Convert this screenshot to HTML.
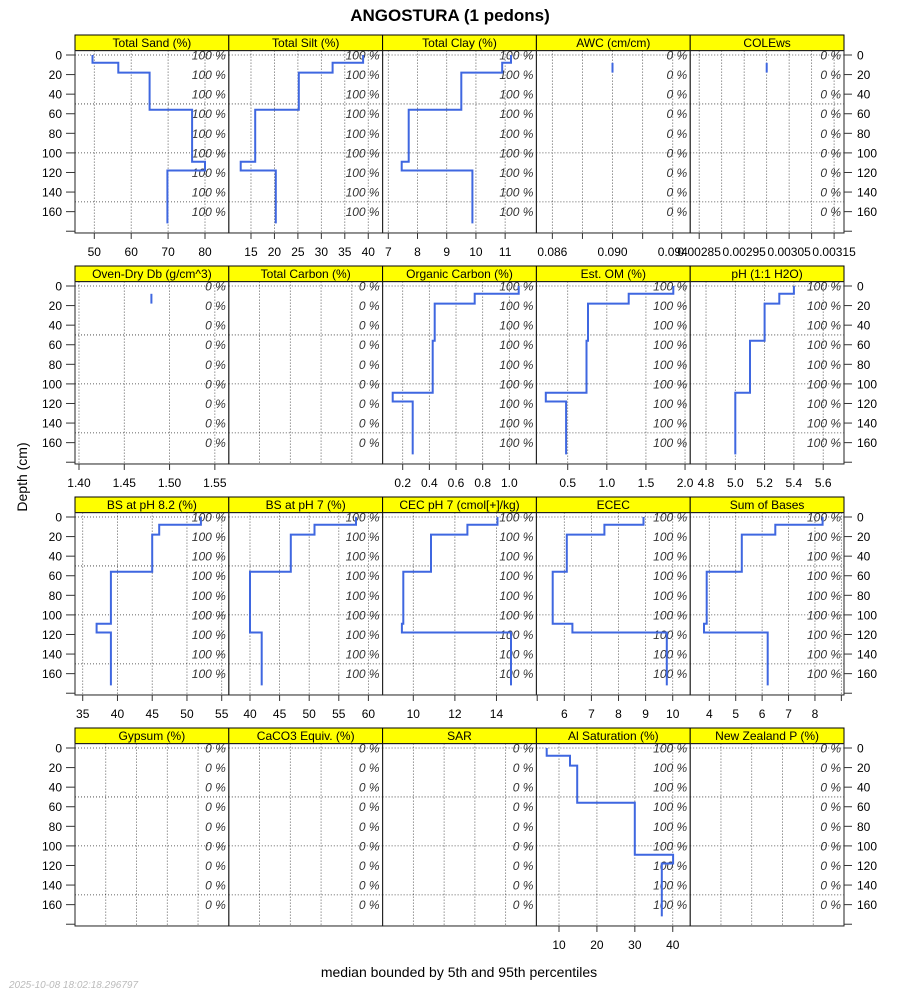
<!DOCTYPE html>
<html><head><meta charset="utf-8"><style>
html,body{margin:0;padding:0;background:#fff;}
svg{display:block;font-family:"Liberation Sans",Arial,sans-serif;}
</style></head><body>
<svg id="chart" width="900" height="1000" viewBox="0 0 900 1000" xmlns="http://www.w3.org/2000/svg">
<text x="450" y="21" text-anchor="middle" font-size="17" font-weight="bold">ANGOSTURA (1 pedons)</text>
<text transform="translate(27,477) rotate(-90)" text-anchor="middle" font-size="14">Depth (cm)</text>
<text x="459" y="977" text-anchor="middle" font-size="14">median bounded by 5th and 95th percentiles</text>
<text x="9" y="988" font-size="10" font-style="italic" fill="#bbb">2025-10-08 18:02:18.296797</text>
</svg>
<script>
// horizon depths (cm)
const horizonTop = [0, 8, 18, 56, 109, 118];
const horizonBottom = [8, 18, 56, 109, 118, 172];
const depthTicks = [0, 20, 40, 60, 80, 100, 120, 140, 160, 180];
const depthLabels = ["0", "20", "40", "60", "80", "100", "120", "140", "160", ""];
const depthGrid = [0, 50, 100, 150];
const pctDepths = [0, 20, 40, 60, 80, 100, 120, 140, 160];

const panelNames = ["Total Sand (%)","Total Silt (%)","Total Clay (%)","AWC (cm/cm)","COLEws",
 "Oven-Dry Db (g/cm^3)","Total Carbon (%)","Organic Carbon (%)","Est. OM (%)","pH (1:1 H2O)",
 "BS at pH 8.2 (%)","BS at pH 7 (%)","CEC pH 7 (cmol[+]/kg)","ECEC","Sum of Bases",
 "Gypsum (%)","CaCO3 Equiv. (%)","SAR","Al Saturation (%)","New Zealand P (%)"];
const N = NaN;
const seriesValues = [
 [49.5, 56.5, 65, 76.5, 80, 69.8],
 [38.9, 32.4, 25.2, 15.9, 12.8, 20.3],
 [11.2, 10.9, 9.5, 7.7, 7.46, 9.88],
 [N, 0.090, N, N, N, N],
 [N, 0.0030, N, N, N, N],
 [N, 1.48, N, N, N, N],
 [N, N, N, N, N, N],
 [1.07, 0.74, 0.44, 0.425, 0.125, 0.275],
 [1.85, 1.28, 0.76, 0.74, 0.22, 0.48],
 [5.4, 5.3, 5.2, 5.1, 5.0, 5.0],
 [52, 46, 45, 39.05, 37, 39.05],
 [57.9, 50.9, 46.9, 40, 40, 41.97],
 [14.05, 12.6, 10.85, 9.52, 9.45, 14.7],
 [8.92, 7.48, 6.09, 5.57, 6.3, 9.78],
 [8.29, 6.5, 5.23, 3.9, 3.8, 6.21],
 [N, N, N, N, N, N],
 [N, N, N, N, N, N],
 [N, N, N, N, N, N],
 [6.75, 12.9, 14.8, 30.0, 40.1, 37.1],
 [N, N, N, N, N, N]
];
const xDomains = [
 [44.77, 86.45],[10.27, 43.06],[6.805, 12.07],[0.08494, 0.09516],[0.00283, 0.003172],
 [1.3956, 1.5654],[0, 5],[0.0492, 1.203],[0.0997, 2.066],[4.692, 5.742],
 [33.89, 56.02],[36.42, 62.4],[8.524, 15.92],[4.97, 10.645],[3.277, 9.10],
 [0, 5],[0, 5],[0, 5],[4.04, 44.6],[0, 5]
];
const xTicks = [
 [50,60,70,80],[15,20,25,30,35,40],[7,8,9,10,11],[0.086,0.088,0.090,0.092,0.094],[0.00285,0.0029,0.00295,0.003,0.00305,0.0031,0.00315],
 [1.40,1.45,1.50,1.55],[1,2,3,4],[0.2,0.4,0.6,0.8,1.0],[0.5,1.0,1.5,2.0],[4.8,5.0,5.2,5.4,5.6],
 [35,40,45,50,55],[40,45,50,55,60],[10,12,14],[5,6,7,8,9,10],[4,5,6,7,8,9],
 [1,2,3,4],[1,2,3,4],[1,2,3,4],[10,20,30,40],[1,2,3,4]
];
const xTickLabels = [
 ["50","60","70","80"],["15","20","25","30","35","40"],["7","8","9","10","11"],["0.086","","0.090","","0.094"],["0.00285","","0.00295","","0.00305","","0.00315"],
 ["1.40","1.45","1.50","1.55"],null,["0.2","0.4","0.6","0.8","1.0"],["0.5","1.0","1.5","2.0"],["4.8","5.0","5.2","5.4","5.6"],
 ["35","40","45","50","55"],["40","45","50","55","60"],["10","12","14"],["","6","7","8","9","10"],["4","5","6","7","8",""],
 null,null,null,["10","20","30","40"],null
];
const pctLabels = ["100 %","100 %","100 %","0 %","0 %","0 %","0 %","100 %","100 %","100 %",
 "100 %","100 %","100 %","100 %","100 %","0 %","0 %","0 %","100 %","0 %"];

const svg = document.getElementById('chart');
const NS = "http://www.w3.org/2000/svg";
const colLeft = [75, 228.8, 382.6, 536.4, 690.2];
const colW = 153.8;
const rowZero = [55, 286, 517, 748];
const pxPerCm = 0.979;
const depthMin = -4.5, depthMax = 181.8;

function mk(tag, attrs, parent) {
  const e = document.createElementNS(NS, tag);
  for (const k in attrs) e.setAttribute(k, attrs[k]);
  (parent || svg).appendChild(e);
  return e;
}
function fmt(s){return s;}

for (let p = 0; p < 20; p++) {
  const r = Math.floor(p / 5), c = p % 5;
  const L = colLeft[c], R = L + colW;
  const y0 = rowZero[r];
  const yScale = d => y0 + d * pxPerCm;
  const T = yScale(depthMin), B = yScale(depthMax);
  const dom = xDomains[p];
  const xScale = v => L + (v - dom[0]) / (dom[1] - dom[0]) * colW;

  const g = mk('g', {});
  
  

  // strip
  const strip = mk('rect', {x: L, y: y0 - 20, width: colW, height: 15.6, fill: '#ffff00', stroke: '#000', 'stroke-width': 1}, g);
  
  
  const st = mk('text', {x: L + colW / 2, y: y0 - 7.8, 'text-anchor': 'middle', 'font-size': 12}, g);
  st.textContent = panelNames[p];
  
  

  // grid
  xTicks[p].forEach(v => {
    const x = xScale(v);
    if (x <= L + 1 || x >= R - 1) return;
    const gl = mk('line', {x1: x, x2: x, y1: T, y2: B, stroke: '#333', 'stroke-width': 0.8, 'stroke-dasharray': '1,2'}, g);
    
    
  });
  depthGrid.forEach(d => {
    const y = yScale(d);
    const gl = mk('line', {x1: L, x2: R, y1: y, y2: y, stroke: '#333', 'stroke-width': 0.8, 'stroke-dasharray': '1,2'}, g);
    
    
  });

  // percent labels
  pctDepths.forEach(d => {
    const t = mk('text', {x: R - 3, y: yScale(d) + 4.5, 'text-anchor': 'end', 'font-size': 12, 'font-style': 'italic', fill: '#333'}, g);
    t.textContent = pctLabels[p];
    
    
  });

  // series
  const vals = seriesValues[p];
  let pts = [];
  const paths = [];
  for (let i = 0; i < vals.length; i++) {
    const v = vals[i];
    if (isNaN(v)) { if (pts.length) paths.push(pts); pts = []; continue; }
    const x = xScale(v);
    pts.push([x, yScale(horizonTop[i])]);
    pts.push([x, yScale(horizonBottom[i])]);
  }
  if (pts.length) paths.push(pts);
  paths.forEach(ps => {
    const pl = mk('polyline', {points: ps.map(q => q[0].toFixed(1) + ',' + q[1].toFixed(1)).join(' '), fill: 'none', stroke: '#3f67e0', 'stroke-width': 2, 'stroke-linejoin': 'miter'}, g);
    
    
  });

  // box
  const box = mk('rect', {x: L, y: T, width: colW, height: B - T, fill: 'none', stroke: '#222', 'stroke-width': 1}, g);
  
  

  // x axis
  if (xTickLabels[p]) {
    xTicks[p].forEach((v, i) => {
      const x = xScale(v);
      const tk = mk('line', {x1: x, x2: x, y1: B, y2: B + 6, stroke: '#333', 'stroke-width': 1}, g);
      
      
      if (xTickLabels[p][i]) {
        const t = mk('text', {x: x, y: B + 23, 'text-anchor': 'middle', 'font-size': 12}, g);
        t.textContent = xTickLabels[p][i];
        
        
      }
    });
  }

  // depth axes
  if (c === 0 || c === 4) {
    depthTicks.forEach((d, i) => {
      const y = yScale(d);
      const x1 = c === 0 ? L - 9 : R, x2 = c === 0 ? L : R + 8;
      const tk = mk('line', {x1: x1, x2: x2, y1: y, y2: y, stroke: '#333', 'stroke-width': 1}, g);
      
      
      if (depthLabels[i]) {
        const t = mk('text', {x: c === 0 ? L - 13 : R + 13, y: y + 4.5, 'text-anchor': c === 0 ? 'end' : 'start', 'font-size': 12}, g);
        t.textContent = depthLabels[i];
        
        
      }
    });
  }
}
</script>
</body></html>
